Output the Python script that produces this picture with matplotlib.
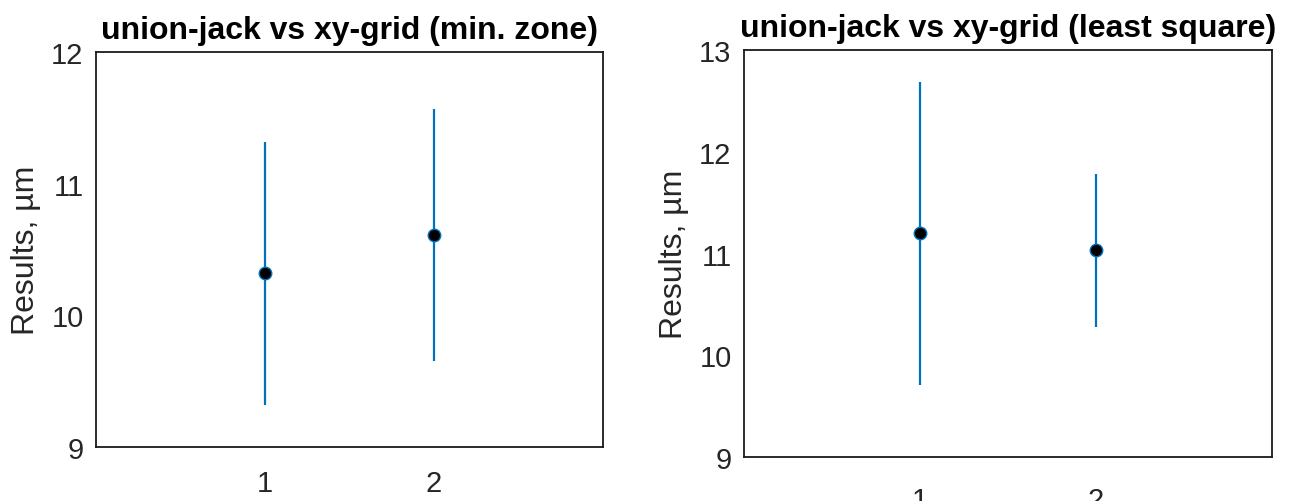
import matplotlib
matplotlib.use("Agg")
import matplotlib.pyplot as plt

plt.rcParams['font.family'] = ['Liberation Sans', 'DejaVu Sans']

x_positions = [1, 2]
x_ticklabels = ["1", "2"]

left_title = "union-jack vs xy-grid (min. zone)"
left_means = [10.32, 10.61]
left_err = [1.00, 0.96]
left_yticks = [9, 10, 11, 12]

right_title = "union-jack vs xy-grid (least square)"
right_means = [11.20, 11.03]
right_err = [1.49, 0.755]
right_yticks = [9, 10, 11, 12, 13]

ylabel = "Results, µm"

BLUE = "#0072BD"
DARK = "#262626"

fig = plt.figure(figsize=(13.04, 5.02), dpi=100)

def draw(ax, means, err, yticks, title, xpad):
    ax.errorbar(x_positions, means, yerr=err, fmt='o', color=BLUE, ecolor=BLUE,
                elinewidth=1.6, capsize=0, markersize=9,
                markerfacecolor='black', markeredgecolor=BLUE, markeredgewidth=1.0)
    ax.set_xlim(0, 3)
    ax.set_ylim(yticks[0], yticks[-1])
    ax.set_xticks(x_positions)
    ax.set_xticklabels(x_ticklabels)
    ax.set_yticks(yticks)
    ax.tick_params(axis='both', length=0, labelsize=21, colors=DARK)
    ax.tick_params(axis='y', pad=9)
    ax.tick_params(axis='x', pad=xpad)
    for s in ax.spines.values():
        s.set_linewidth(1.3)
        s.set_color('#1a1a1a')
    ax.set_title(title, fontsize=23, fontweight='bold', pad=10, color='black')
    ax.set_ylabel(ylabel, fontsize=23, color=DARK, labelpad=7)

ax1 = fig.add_axes([96/1304, 1 - 448/502, 507/1304, 395/502])
draw(ax1, left_means, left_err, left_yticks, left_title, 16)

ax2 = fig.add_axes([744/1304, 1 - 458/502, 528/1304, 407/502])
draw(ax2, right_means, right_err, right_yticks, right_title, 21)

fig.savefig("out.png", dpi=100)
